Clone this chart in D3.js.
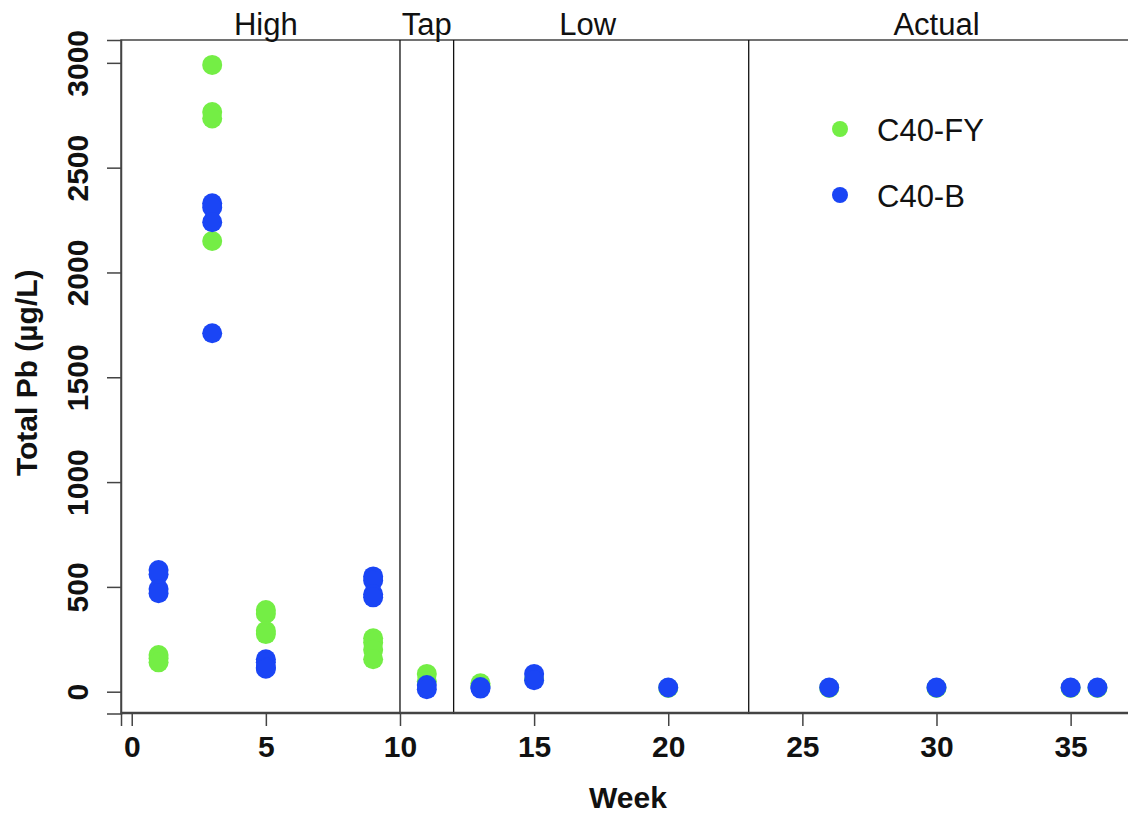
<!DOCTYPE html>
<html>
<head>
<meta charset="utf-8">
<script src="https://cdn.jsdelivr.net/npm/d3@7"></script>
<style>
  html, body { margin: 0; padding: 0; background: #fff; }
  svg { display: block; font-family: "Liberation Sans", Arial, sans-serif; }
</style>
</head>
<body>
<svg id="chart" width="1128" height="815"></svg>
<script>
// Total lead per sampling week for the two pipe configurations
const fyWeeks  = [1, 1, 1, 3, 3, 3, 3, 5, 5, 5, 5, 9, 9, 9, 9, 11, 11, 13, 13, 15, 20, 26, 30, 35, 36];
const fyValues = [175, 160, 140, 2990, 2765, 2735, 2150, 390, 372, 290, 275, 255, 235, 200, 155, 85, 50, 40, 30, 60, 18, 18, 18, 18, 18];

const bWeeks  = [1, 1, 1, 1, 3, 3, 3, 3, 5, 5, 5, 5, 9, 9, 9, 9, 11, 11, 13, 13, 15, 15, 20, 26, 30, 35, 36];
const bValues = [580, 560, 490, 470, 2330, 2310, 2240, 1710, 155, 140, 115, 110, 550, 530, 465, 450, 32, 12, 22, 15, 85, 55, 20, 20, 20, 20, 20];

const seriesNames  = ["C40-FY", "C40-B"];
const seriesColors = ["#74ee45", "#1a45f5"];

// Phase boundaries (weeks) and phase labels
const phaseBreaks = [10, 12, 23];
const phaseNames  = ["High", "Tap", "Low", "Actual"];
const phaseLabelWeeks = [5, 11, 17, 30];

const xTicks = [0, 5, 10, 15, 20, 25, 30, 35];
const yTicks = [0, 500, 1000, 1500, 2000, 2500, 3000];

(function draw() {
  const svg = d3.select("#chart");
  const mLeft = 121, mRight = 1135, mTop = 40, mBottom = 713.5;

  const x = d3.scaleLinear().domain([-0.4, 37.4]).range([mLeft, mRight]);
  const y = d3.scaleLinear().domain([-104, 3109]).range([mBottom, mTop]);

  // plot frame
  svg.append("rect")
    .attr("x", mLeft).attr("y", mTop)
    .attr("width", mRight - mLeft).attr("height", mBottom - mTop)
    .attr("fill", "none").attr("stroke", "#444").attr("stroke-width", 1.5);

  // phase separators
  svg.append("g").selectAll("line").data(phaseBreaks).join("line")
    .attr("x1", d => x(d)).attr("x2", d => x(d))
    .attr("y1", mTop).attr("y2", mBottom)
    .attr("stroke", "#111").attr("stroke-width", 1.3);

  // phase labels above the frame
  svg.append("g").selectAll("text").data(phaseNames).join("text")
    .attr("x", (d, i) => x(phaseLabelWeeks[i]))
    .attr("y", 35)
    .attr("text-anchor", "middle")
    .attr("font-size", 31)
    .attr("fill", "#111")
    .text(d => d);

  // x axis
  const xAxis = svg.append("g")
    .attr("transform", `translate(0,${mBottom - 1.5})`)
    .call(d3.axisBottom(x).tickValues(xTicks).tickSize(14).tickPadding(10).tickFormat(d3.format("d")));
  xAxis.select(".domain").attr("stroke", "#444").attr("stroke-width", 1.5);
  xAxis.selectAll(".tick line").attr("stroke", "#444").attr("stroke-width", 1.5);
  xAxis.selectAll(".tick text")
    .attr("font-size", 30).attr("font-weight", "bold").attr("fill", "#111")
    .attr("font-family", "Liberation Sans, Arial, sans-serif");

  // y axis with rotated labels
  const yAxis = svg.append("g")
    .attr("transform", `translate(${mLeft},0)`)
    .call(d3.axisLeft(y).tickValues(yTicks).tickSize(14).tickFormat(d3.format("d")));
  yAxis.select(".domain").attr("stroke", "#444").attr("stroke-width", 1.5);
  yAxis.selectAll(".tick line").attr("stroke", "#444").attr("stroke-width", 1.5);
  yAxis.selectAll(".tick text")
    .attr("x", null).attr("dy", null)
    .attr("transform", "translate(-33,0) rotate(-90)")
    .attr("text-anchor", "middle")
    .attr("font-size", 30).attr("font-weight", "bold").attr("fill", "#111")
    .attr("font-family", "Liberation Sans, Arial, sans-serif");

  // axis titles
  svg.append("text")
    .attr("transform", `translate(37,${(mTop + mBottom) / 2 - 4}) rotate(-90)`)
    .attr("text-anchor", "middle")
    .attr("font-size", 30).attr("font-weight", "bold").attr("fill", "#111")
    .text("Total Pb (µg/L)");

  svg.append("text")
    .attr("x", (mLeft + mRight) / 2).attr("y", 808)
    .attr("text-anchor", "middle")
    .attr("font-size", 30).attr("font-weight", "bold").attr("fill", "#111")
    .text("Week");

  // data points: C40-FY drawn first, C40-B on top
  const series = [
    fyWeeks.map((w, i) => ({ week: w, value: fyValues[i] })),
    bWeeks.map((w, i) => ({ week: w, value: bValues[i] }))
  ];
  series.forEach((pts, s) => {
    svg.append("g").selectAll("circle").data(pts).join("circle")
      .attr("cx", d => x(d.week))
      .attr("cy", d => y(d.value))
      .attr("r", 10)
      .attr("fill", seriesColors[s]);
  });

  // legend
  const legend = svg.append("g");
  seriesNames.forEach((name, i) => {
    legend.append("circle")
      .attr("cx", 840).attr("cy", 129 + i * 66)
      .attr("r", 8).attr("fill", seriesColors[i]);
    legend.append("text")
      .attr("x", 877).attr("y", 141 + i * 66)
      .attr("font-size", 31).attr("fill", "#111")
      .text(name);
  });
})();
</script>
</body>
</html>
